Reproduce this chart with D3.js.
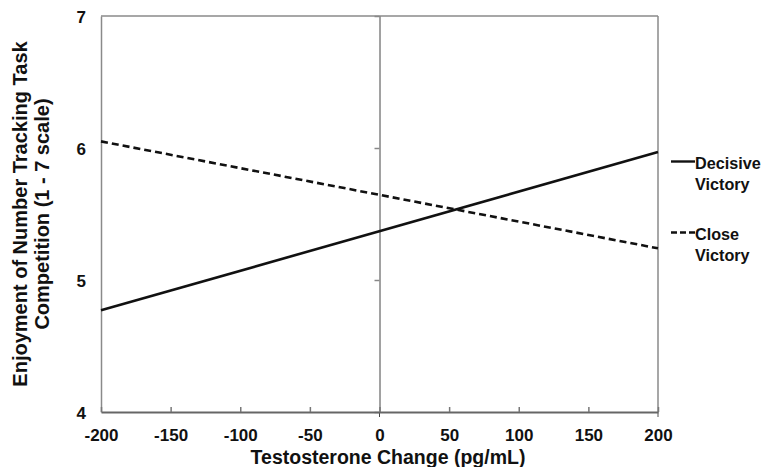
<!DOCTYPE html>
<html>
<head>
<meta charset="utf-8">
<script src="https://cdn.jsdelivr.net/npm/d3@7"></script>
<style>
  body { margin: 0; background: #fff; }
  svg text { font-family: "Liberation Sans", Arial, sans-serif; font-weight: bold; fill: #111; }
</style>
</head>
<body>
<svg id="chart" width="764" height="467"></svg>
<script>
// values
var testosterone = [-200, 200];          // x values of each fitted line
var decisive = [4.77, 5.97];             // Decisive Victory
var closeWin = [6.05, 5.24];             // Close Victory
var xTicks = [-200, -150, -100, -50, 0, 50, 100, 150, 200];
var yTicks = [4, 5, 6, 7];
var seriesNames = ["Decisive", "Close"];

var margin = { top: 16, right: 106, bottom: 55, left: 101 },
    width = 764 - margin.left - margin.right,
    height = 467 - margin.top - margin.bottom;

var svg = d3.select("#chart")
  .append("g")
  .attr("transform", "translate(" + margin.left + "," + margin.top + ")");

var x = d3.scaleLinear().domain([-200, 200]).range([0, width]);
var y = d3.scaleLinear().domain([4, 7]).range([height, 0]);

// plain hyphen for negatives, like the original
var fmt = function (d) { return String(d); };

// frame: top and right border
svg.append("line")
  .attr("x1", 0).attr("x2", width).attr("y1", 0).attr("y2", 0)
  .attr("stroke", "#8a8a8a").attr("stroke-width", 1.5);
svg.append("line")
  .attr("x1", width).attr("x2", width).attr("y1", 0).attr("y2", height + 5)
  .attr("stroke", "#8a8a8a").attr("stroke-width", 1.5);

// left axis with labels
var gy = svg.append("g")
  .call(d3.axisLeft(y).tickValues(yTicks).tickSize(0).tickPadding(15).tickFormat(fmt));
gy.select(".domain").attr("stroke", "#8a8a8a").attr("stroke-width", 1.5);
gy.selectAll("text").style("font-size", "17px").attr("dy", "0.4em");

// vertical line at zero with small ticks
var gz = svg.append("g")
  .attr("transform", "translate(" + x(0) + ",0)")
  .call(d3.axisLeft(y).tickValues(yTicks).tickSizeInner(5).tickSizeOuter(0).tickFormat(""));
gz.select(".domain").attr("stroke", "#444").attr("stroke-width", 1);
gz.selectAll(".tick line").attr("stroke", "#888").attr("stroke-width", 1.5);
svg.append("line")
  .attr("x1", x(0)).attr("x2", x(0)).attr("y1", height).attr("y2", height + 5)
  .attr("stroke", "#444");

// bottom axis
var gx = svg.append("g")
  .attr("transform", "translate(0," + height + ")")
  .call(d3.axisBottom(x).tickValues(xTicks).tickSizeInner(-5).tickSizeOuter(0).tickPadding(17).tickFormat(fmt));
gx.select(".domain").attr("stroke", "#666").attr("stroke-width", 2);
gx.selectAll(".tick line").attr("stroke", "#777").attr("stroke-width", 1.5);
gx.selectAll("text").style("font-size", "17px");

// lines
var line = d3.line()
  .x(function (d, i) { return x(testosterone[i]); })
  .y(function (d) { return y(d); });

svg.append("path")
  .datum(decisive)
  .attr("d", line)
  .attr("fill", "none")
  .attr("stroke", "#111")
  .attr("stroke-width", 2.6);

svg.append("path")
  .datum(closeWin)
  .attr("d", line)
  .attr("fill", "none")
  .attr("stroke", "#111")
  .attr("stroke-width", 2.6)
  .attr("stroke-dasharray", "7,4");

// legend
var legend = svg.append("g").attr("transform", "translate(" + (width + 13) + ",0)");
var legY = [145.5, 216.5];
seriesNames.forEach(function (name, i) {
  legend.append("line")
    .attr("x1", 0).attr("x2", 24)
    .attr("y1", legY[i]).attr("y2", legY[i])
    .attr("stroke", "#111").attr("stroke-width", 2.4)
    .attr("stroke-dasharray", i == 1 ? "6,3" : null);
  var t = legend.append("text")
    .attr("x", 24).attr("y", legY[i] + 7.5)
    .style("font-size", "16.2px");
  t.append("tspan").attr("x", 24).text(name);
  t.append("tspan").attr("x", 24).attr("dy", 21).text("Victory");
});

// axis titles
d3.select("#chart").append("text")
  .attr("x", 388).attr("y", 463.5)
  .attr("text-anchor", "middle")
  .style("font-size", "19.5px")
  .text("Testosterone Change (pg/mL)");

var yt = d3.select("#chart").append("text")
  .attr("transform", "translate(27,214) rotate(-90)")
  .attr("text-anchor", "middle")
  .style("font-size", "20px");
yt.append("tspan").attr("x", 0).attr("y", 0).text("Enjoyment of Number Tracking Task");
yt.append("tspan").attr("x", 0).attr("y", 22).text("Competition (1 - 7 scale)");
</script>
</body>
</html>
